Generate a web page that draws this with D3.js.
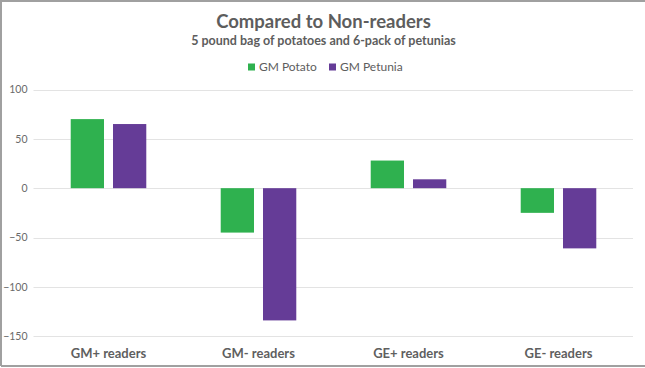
<!DOCTYPE html>
<html>
<head>
<meta charset="utf-8">
<script src="https://cdn.jsdelivr.net/npm/d3@7"></script>
<style>
  body { margin: 0; background: #fff; }
  svg { display: block; font-family: Lato, "Open Sans", sans-serif; }
</style>
</head>
<body>
<div id="chart"></div>
<script>
const categories = ['GM+ readers', 'GM- readers', 'GE+ readers', 'GE- readers'];
const seriesNames = ['GM Potato', 'GM Petunia'];
const potato = [70, -45, 28, -25];
const petunia = [65, -134, 9, -61];
const yTicks = [-150, -100, -50, 0, 50, 100];
const colors = ['#2fb14f', '#653c97'];

const width = 645, height = 368;
const margin = { top: 89.5, right: 12, bottom: 31.5, left: 33.5 };

const svg = d3.select('#chart').append('svg')
  .attr('width', width)
  .attr('height', height);

// frame (left, top, bottom only)
svg.append('path')
  .attr('d', `M1,366 L1,1 L${width},1 M1,366 L${width},366`)
  .attr('fill', 'none')
  .attr('stroke', '#a0a0a0')
  .attr('stroke-width', 2);

const x = d3.scaleBand()
  .domain(categories)
  .range([margin.left, width - margin.right + 0.5])
  .paddingInner(0)
  .paddingOuter(0);

const y = d3.scaleLinear()
  .domain([-150, 100])
  .range([height - margin.bottom - 0.3, margin.top]);

const inner = d3.scaleBand()
  .domain(seriesNames)
  .range([0, x.bandwidth()])
  .paddingInner(0.213)
  .paddingOuter(0.88);

// gridlines
svg.append('g')
  .selectAll('line')
  .data(yTicks)
  .join('line')
  .attr('x1', margin.left)
  .attr('x2', width - margin.right)
  .attr('y1', d => Math.round(y(d)) + 0.5)
  .attr('y2', d => Math.round(y(d)) + 0.5)
  .attr('stroke', '#e3e3e3')
  .attr('stroke-width', 1);

// y labels
const yAxis = svg.append('g')
  .attr('transform', `translate(${margin.left - 6},0)`)
  .call(d3.axisLeft(y).tickValues(yTicks).tickSize(0).tickPadding(0));
yAxis.select('.domain').remove();
yAxis.selectAll('text')
  .attr('font-family', 'Lato, "Open Sans", sans-serif')
  .attr('font-size', '10.5px')
  .attr('fill', '#6a6a6a');

// bars
const table = categories.map((c, i) => ({ cat: c, vals: [potato[i], petunia[i]] }));
const groups = svg.append('g')
  .selectAll('g')
  .data(table)
  .join('g')
  .attr('transform', d => `translate(${x(d.cat)},0)`);

groups.selectAll('rect')
  .data(d => d.vals.map((v, j) => ({ name: seriesNames[j], v, j })))
  .join('rect')
  .attr('x', d => inner(d.name))
  .attr('width', inner.bandwidth())
  .attr('y', d => y(Math.max(0, d.v)))
  .attr('height', d => Math.abs(y(d.v) - y(0)))
  .attr('fill', d => colors[d.j]);

// category labels
svg.append('g')
  .selectAll('text')
  .data(categories)
  .join('text')
  .attr('x', d => x(d) + x.bandwidth() / 2)
  .attr('y', 357.5)
  .attr('text-anchor', 'middle')
  .attr('font-size', '13px')
  .attr('font-weight', 'bold')
  .attr('fill', '#5f5f5f')
  .text(d => d);

// titles
svg.append('text')
  .attr('x', width / 2 + 1)
  .attr('y', 28)
  .attr('text-anchor', 'middle')
  .attr('font-size', '18.5px')
  .attr('font-weight', 'bold')
  .attr('fill', '#5d5d5d')
  .text('Compared to Non-readers');

svg.append('text')
  .attr('x', width / 2 + 1)
  .attr('y', 45)
  .attr('text-anchor', 'middle')
  .attr('font-size', '12.5px')
  .attr('font-weight', 'bold')
  .attr('fill', '#5d5d5d')
  .text('5 pound bag of potatoes and 6-pack of petunias');

// legend
const legendX = [248, 329];
const legend = svg.append('g')
  .selectAll('g')
  .data(seriesNames)
  .join('g')
  .attr('transform', (d, i) => `translate(${legendX[i]},0)`);
legend.append('rect')
  .attr('x', 0).attr('y', 63.5)
  .attr('width', 7).attr('height', 7)
  .attr('fill', (d, i) => colors[i]);
legend.append('text')
  .attr('x', 11).attr('y', 71)
  .attr('font-size', '12px')
  .attr('fill', '#5d5d5d')
  .text(d => d);
</script>
</body>
</html>
